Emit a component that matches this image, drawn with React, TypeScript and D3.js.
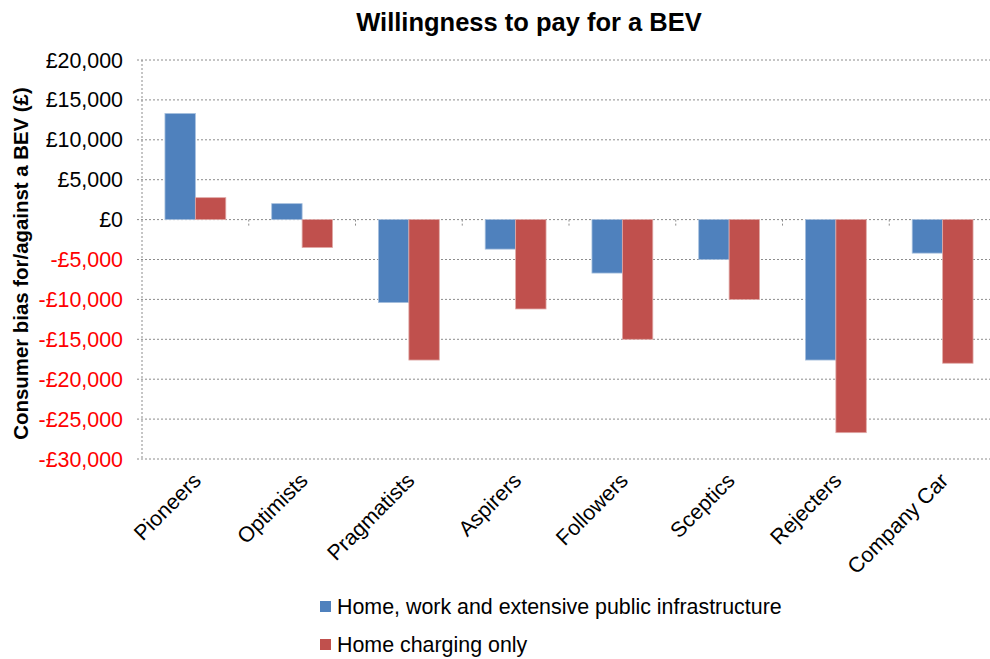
import React from "react";
import * as d3 from "d3";

// Chart data
const categories = [
  "Pioneers",
  "Optimists",
  "Pragmatists",
  "Aspirers",
  "Followers",
  "Sceptics",
  "Rejecters",
  "Company Car",
];
const seriesNames = [
  "Home, work and extensive public infrastructure",
  "Home charging only",
];
const publicInfra = [13300, 2000, -10400, -3700, -6700, -5000, -17600, -4200];
const homeOnly = [2750, -3500, -17600, -11200, -15000, -10000, -26700, -18000];
const yTicks = [20000, 15000, 10000, 5000, 0, -5000, -10000, -15000, -20000, -25000, -30000];

const colors = ["#4F81BD", "#C0504D"];
const strokes = ["#A7C0DE", "#E0A9A7"];

const W = 990;
const H = 659;
const plot = { left: 142, right: 996, top: 60, bottom: 459 };
const FONT = "'Liberation Sans', Arial, sans-serif";

function fmt(v: number) {
  const s = d3.format(",")(Math.abs(v));
  return (v < 0 ? "-£" : "£") + s;
}

export default function App() {
  const y = d3.scaleLinear().domain([-30000, 20000]).range([plot.bottom, plot.top]);
  const x0 = d3
    .scaleBand<string>()
    .domain(categories)
    .range([plot.left, plot.right])
    .paddingInner(0.43)
    .paddingOuter(0.215);
  const x1 = d3.scaleBand<number>().domain([0, 1]).range([0, x0.bandwidth()]);
  const step = x0.step();
  const series = [publicInfra, homeOnly];
  const y0 = y(0);

  return (
    <svg
      width={W}
      height={H}
      style={{ position: "absolute", left: 0, top: 0, background: "#fff" }}
      fontFamily={FONT}
    >
      <text x={529} y={31} textAnchor="middle" fontSize={25.5} fontWeight="bold" fill="#000">
        Willingness to pay for a BEV
      </text>

      {/* gridlines */}
      {yTicks.map((t) => (
        <line
          key={"g" + t}
          x1={plot.left - 5}
          x2={plot.right}
          y1={y(t)}
          y2={y(t)}
          stroke="#8C8C8C"
          strokeWidth={1}
          strokeDasharray="2,2"
        />
      ))}
      {/* y axis line */}
      <line
        x1={plot.left}
        x2={plot.left}
        y1={plot.top}
        y2={plot.bottom}
        stroke="#8C8C8C"
        strokeDasharray="2,2"
      />
      {/* category ticks on zero line */}
      {categories.map((c, i) => {
        const xb = plot.left + step * (i + 1);
        return (
          <line
            key={"t" + c}
            x1={xb}
            x2={xb}
            y1={y0}
            y2={y0 + 6}
            stroke="#8C8C8C"
            strokeDasharray="2,2"
          />
        );
      })}

      {/* bars */}
      {categories.map((c, i) => (
        <g key={c}>
          {series.map((vals, s) => {
            const v = vals[i];
            const bx = (x0(c) as number) + (x1(s) as number);
            const top = Math.min(y(v), y0);
            const h = Math.abs(y(v) - y0);
            return (
              <rect
                key={s}
                x={bx}
                y={top}
                width={x1.bandwidth()}
                height={h}
                fill={colors[s]}
                stroke={strokes[s]}
                strokeWidth={0.8}
              />
            );
          })}
        </g>
      ))}

      {/* y tick labels */}
      {yTicks.map((t) => (
        <text
          key={"l" + t}
          x={123}
          y={y(t) + 7.5}
          textAnchor="end"
          fontSize={21.4}
          fill={t < 0 ? "#FF0000" : "#000"}
        >
          {fmt(t)}
        </text>
      ))}

      {/* y axis title */}
      <text
        transform={`translate(28,${(plot.top + plot.bottom) / 2 + 4}) rotate(-90)`}
        textAnchor="middle"
        fontSize={20.4}
        fontWeight="bold"
        fill="#000"
      >
        Consumer bias for/against a BEV (£)
      </text>

      {/* category labels */}
      {categories.map((c) => {
        const cx = (x0(c) as number) + x0.bandwidth() / 2;
        return (
          <text
            key={"c" + c}
            transform={`translate(${cx + 7},${482}) rotate(-45)`}
            textAnchor="end"
            fontSize={21.4}
            fill="#000"
          >
            {c}
          </text>
        );
      })}

      {/* legend */}
      {seriesNames.map((n, i) => (
        <g key={n} transform={`translate(320,${601 + i * 38})`}>
          <rect x={0} y={0} width={11} height={11} fill={colors[i]} />
          <text x={17} y={13} fontSize={21.4} fill="#000">
            {n}
          </text>
        </g>
      ))}
    </svg>
  );
}
